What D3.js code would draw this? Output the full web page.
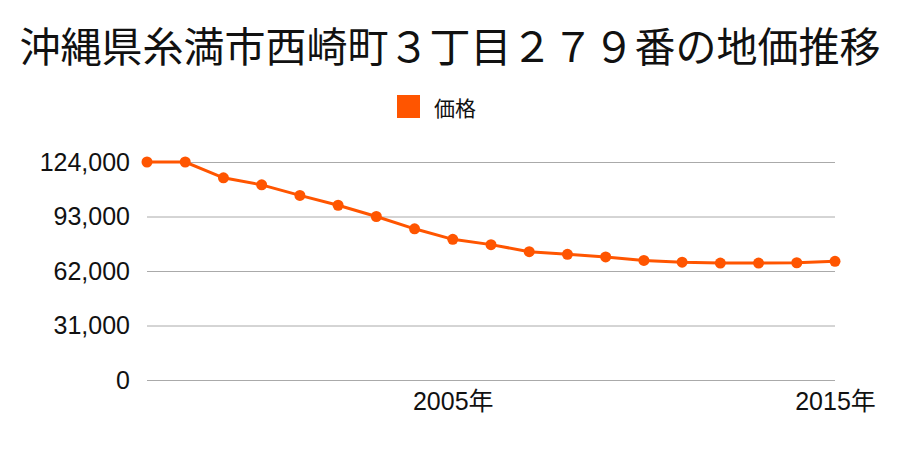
<!DOCTYPE html>
<html>
<head>
<meta charset="utf-8">
<script src="https://cdn.jsdelivr.net/npm/d3@7"></script>
<style>
  body { margin: 0; background: #fff; }
  text { font-family: "Noto Sans CJK JP", "Noto Sans", sans-serif; fill: #111; }
</style>
</head>
<body>
<div id="chart"></div>
<script>
const years = [1997, 1998, 1999, 2000, 2001, 2002, 2003, 2004, 2005, 2006, 2007, 2008, 2009, 2010, 2011, 2012, 2013, 2014, 2015];
const prices = [124000, 124000, 115000, 111000, 105000, 99400, 93000, 86000, 80000, 77000, 73000, 71500, 70000, 68000, 67000, 66500, 66500, 66700, 67500];
const yTicks = [0, 31000, 62000, 93000, 124000];
const xLabelYears = [2005, 2015];
const titleText = "沖縄県糸満市西崎町３丁目２７９番の地価推移";
const seriesName = "価格";

const width = 900;
const height = 450;
const color = "#ff5500";
const tickFont = '"Liberation Sans", "Noto Sans CJK JP", sans-serif';

const svg = d3.select('#chart')
    .append('svg')
    .attr('width', width)
    .attr('height', height);

const xScale = d3.scalePoint()
    .domain(years)
    .range([147, 835]);

const yScale = d3.scaleLinear()
    .domain([0, 124000])
    .range([380, 162]);

// title
svg.append('text')
    .attr('x', width / 2)
    .attr('y', 44)
    .attr('text-anchor', 'middle')
    .attr('dominant-baseline', 'central')
    .style('font-size', '41px')
    .text(titleText);

// legend
const legend = svg.append('g').attr('transform', 'translate(397, 95)');
legend.append('rect')
    .attr('width', 23)
    .attr('height', 23)
    .attr('fill', color);
legend.append('text')
    .attr('x', 37)
    .attr('y', 11.5)
    .attr('dominant-baseline', 'central')
    .style('font-size', '21px')
    .text(seriesName);

// gridlines
svg.append('g')
    .selectAll('line')
    .data(yTicks)
    .enter()
    .append('line')
    .attr('x1', 147)
    .attr('x2', 835)
    .attr('y1', d => yScale(d) + 0.5)
    .attr('y2', d => yScale(d) + 0.5)
    .attr('stroke', '#aaa')
    .attr('stroke-width', 1);

// y axis labels
const yAxis = d3.axisLeft(yScale)
    .tickValues(yTicks)
    .tickSize(0)
    .tickPadding(17)
    .tickFormat(d3.format(','));

svg.append('g')
    .attr('transform', 'translate(147, 0)')
    .call(yAxis)
    .call(g => g.select('.domain').remove())
    .call(g => g.selectAll('text')
        .style('font-size', '25px')
        .style('font-family', tickFont)
        .attr('fill', '#111'));

// x axis labels
const xAxis = d3.axisBottom(xScale)
    .tickValues(xLabelYears)
    .tickSize(0)
    .tickPadding(12)
    .tickFormat(d => d + '年');

svg.append('g')
    .attr('transform', 'translate(0, 380)')
    .call(xAxis)
    .call(g => g.select('.domain').remove())
    .call(g => g.selectAll('text')
        .style('font-size', '25px')
        .style('font-family', tickFont)
        .attr('fill', '#111'));

// line
const line = d3.line()
    .x((d, i) => xScale(years[i]))
    .y(d => yScale(d));

svg.append('path')
    .datum(prices)
    .attr('d', line)
    .attr('fill', 'none')
    .attr('stroke', color)
    .attr('stroke-width', 3);

svg.selectAll('.dot')
    .data(prices)
    .enter()
    .append('circle')
    .attr('class', 'dot')
    .attr('cx', (d, i) => xScale(years[i]))
    .attr('cy', d => yScale(d))
    .attr('r', 5.5)
    .attr('fill', color);
</script>
</body>
</html>
